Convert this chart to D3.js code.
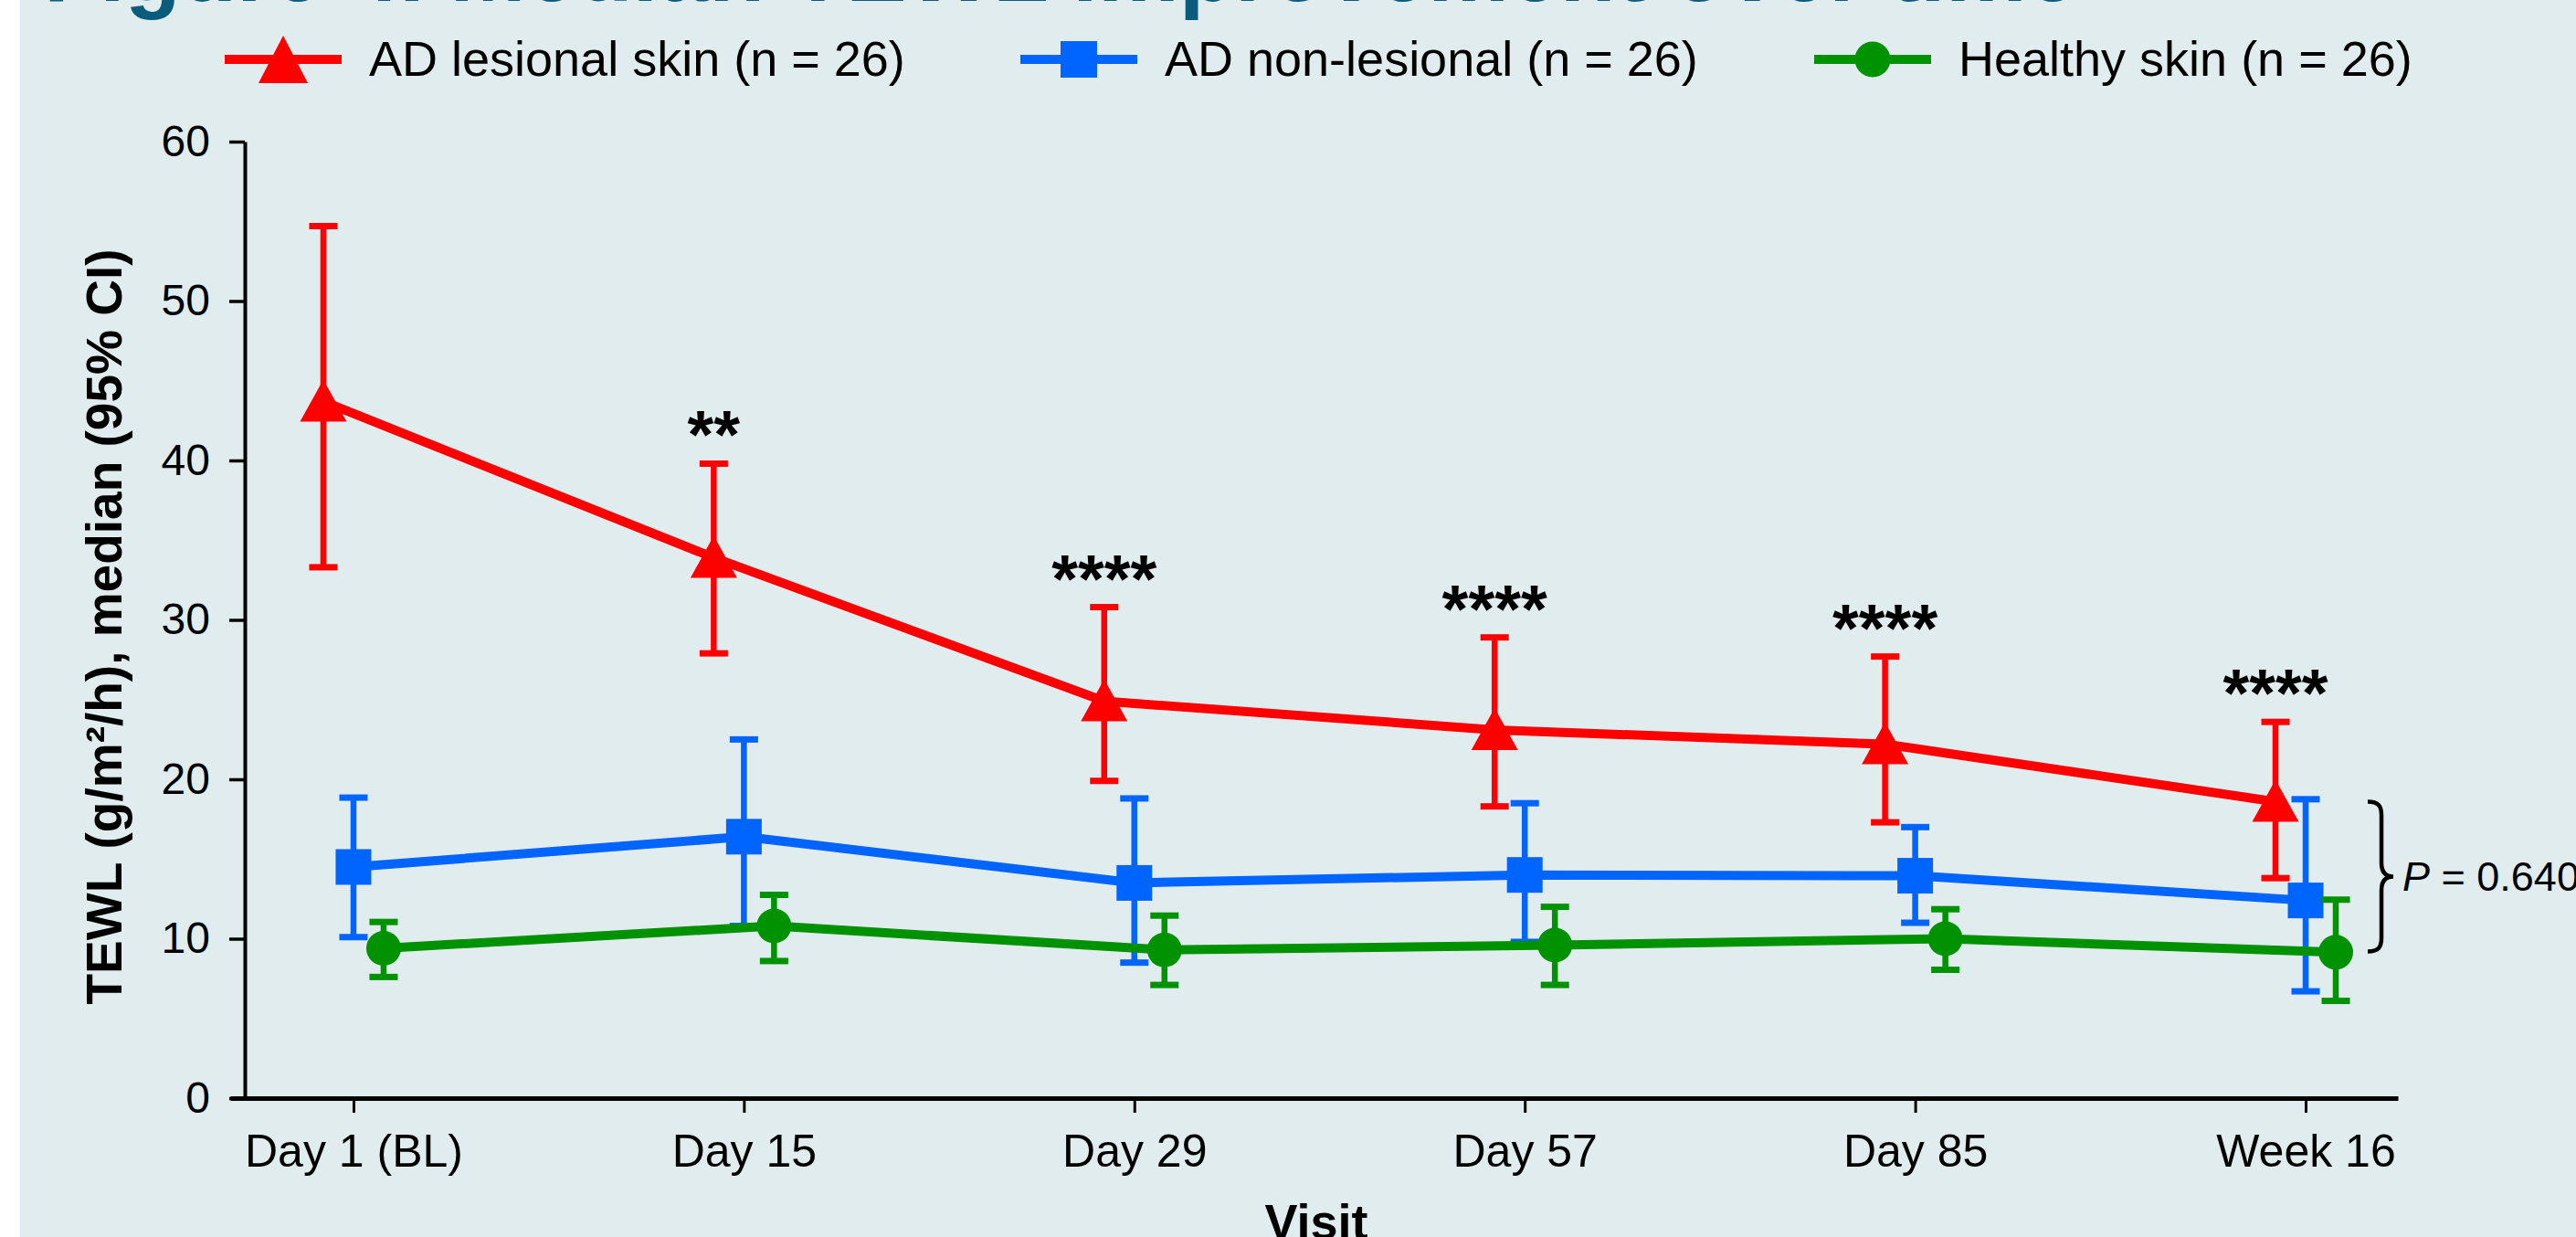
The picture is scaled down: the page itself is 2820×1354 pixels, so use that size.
<!DOCTYPE html>
<html><head><meta charset="utf-8">
<script src="https://cdn.jsdelivr.net/npm/d3@7/dist/d3.min.js"></script>
<style>html,body{margin:0;padding:0;background:#fff}svg{display:block}</style>
</head><body>
<script>
// ---- data ----
const visits = ["Day 1 (BL)", "Day 15", "Day 29", "Day 57", "Day 85", "Week 16"];
const yTicks = [0, 10, 20, 30, 40, 50, 60];
const seriesNames = ["AD lesional skin (n = 26)", "AD non-lesional (n = 26)", "Healthy skin (n = 26)"];
const lesionalMedian = [43.7, 33.9, 24.9, 23.1, 22.2, 18.6];
const lesionalLower  = [33.3, 27.9, 19.9, 18.3, 17.3, 13.8];
const lesionalUpper  = [54.7, 39.8, 30.8, 28.9, 27.7, 23.6];
const nonLesionalMedian = [14.5, 16.4, 13.5, 14.0, 13.95, 12.4];
const nonLesionalLower  = [10.1, 10.8, 8.5, 9.8, 11.0, 6.7];
const nonLesionalUpper  = [18.85, 22.5, 18.8, 18.5, 17.0, 18.75];
const healthyMedian = [9.4, 10.8, 9.3, 9.6, 10.0, 9.15];
const healthyLower  = [7.6, 8.6, 7.1, 7.1, 8.05, 6.1];
const healthyUpper  = [11.05, 12.75, 11.45, 12.0, 11.85, 12.45];
const significance = ["", "**", "****", "****", "****", "****"];
const braceRange = [18.6, 9.2];
const pLabel = "0.640";
const titleText = "Figure 4. Median TEWL improvement over time";
const yTitle = "TEWL (g/m²/h), median (95% CI)";
const xTitle = "Visit";

// ---- drawing ----
const W = 2820, H = 1354;
const font = "'Liberation Sans', Arial, Helvetica, sans-serif";
const colors = ["#ff0000", "#0064ff", "#009200"];
const svg = d3.select("body").append("svg").attr("width", W).attr("height", H)
  .attr("font-family", font);

svg.append("rect").attr("x", 22).attr("y", 0).attr("width", W - 22).attr("height", H).attr("fill", "#e1ecee");

svg.append("text").attr("x", 48).attr("y", 1).attr("font-weight", "bold").attr("font-size", 100)
  .attr("fill", "#0a5c7d").text(titleText);

const x = d3.scalePoint().domain(visits).range([252, 2625]).padding(0.276).align(0.572);
const y = d3.scaleLinear().domain([0, 60]).range([1202, 155]);

// axes
const gy = svg.append("g").attr("transform", "translate(268,0)")
  .call(d3.axisLeft(y).tickValues(yTicks).tickSize(17).tickSizeOuter(0).tickPadding(21));
gy.select(".domain").attr("stroke", "#000").attr("stroke-width", 4);
gy.selectAll(".tick line").attr("stroke", "#000").attr("stroke-width", 3.5);
gy.selectAll(".tick text").attr("font-size", 48).attr("fill", "#000").attr("font-family", font);

const gx = svg.append("g").attr("transform", "translate(0,1202)")
  .call(d3.axisBottom(x).tickSize(16).tickSizeOuter(0));
gx.select(".domain").attr("stroke", "#000").attr("stroke-width", 5);
gx.selectAll(".tick line").attr("stroke", "#000").attr("stroke-width", 3);
gx.selectAll(".tick text").attr("font-size", 50).attr("fill", "#000").attr("font-family", font)
  .attr("y", 75).attr("dy", 0);

// axis titles
svg.append("text").attr("transform", "translate(133,686) rotate(-90)").attr("text-anchor", "middle")
  .attr("font-weight", "bold").attr("font-size", 55).attr("fill", "#000").text(yTitle);
svg.append("text").attr("x", 1441).attr("y", 1356).attr("text-anchor", "middle")
  .attr("font-weight", "bold").attr("font-size", 54).attr("fill", "#000").text(xTitle);

// series
const series = [
  { med: lesionalMedian, lo: lesionalLower, hi: lesionalUpper, off: -33, sym: "tri" },
  { med: nonLesionalMedian, lo: nonLesionalLower, hi: nonLesionalUpper, off: 0, sym: "sq" },
  { med: healthyMedian, lo: healthyLower, hi: healthyUpper, off: 33, sym: "circ" }
];

function triPath(w, hUp, hDown) {
  return `M0,${-hUp}L${w / 2},${hDown}L${-w / 2},${hDown}Z`;
}
function drawMarker(g, type, cx, cy, color, legend) {
  if (type === "tri") {
    g.append("path").attr("d", legend ? triPath(54, 26, 26) : triPath(51, 24, 22))
      .attr("transform", `translate(${cx},${cy})`).attr("fill", color);
  } else if (type === "sq") {
    const s = legend ? 40 : 39;
    g.append("rect").attr("x", cx - s / 2).attr("y", cy - s / 2).attr("width", s).attr("height", s).attr("fill", color);
  } else {
    g.append("circle").attr("cx", cx).attr("cy", cy).attr("r", legend ? 19.5 : 19).attr("fill", color);
  }
}

series.forEach((s, k) => {
  const g = svg.append("g");
  const color = colors[k];
  const px = i => x(visits[i]) + s.off;
  g.append("path").datum(s.med)
    .attr("d", d3.line().x((d, i) => px(i)).y(d => y(d)))
    .attr("fill", "none").attr("stroke", color).attr("stroke-width", 10);
  s.med.forEach((m, i) => {
    const cx = px(i);
    g.append("line").attr("x1", cx).attr("x2", cx).attr("y1", y(s.lo[i])).attr("y2", y(s.hi[i]))
      .attr("stroke", color).attr("stroke-width", 6.5);
    [s.lo[i], s.hi[i]].forEach(v => {
      g.append("line").attr("x1", cx - 15.5).attr("x2", cx + 15.5).attr("y1", y(v)).attr("y2", y(v))
        .attr("stroke", color).attr("stroke-width", 7);
    });
  });
  s.med.forEach((m, i) => drawMarker(g, s.sym, px(i), y(m), color, false));
});

// significance stars
significance.forEach((t, i) => {
  if (!t) return;
  svg.append("text").attr("x", x(visits[i]) + series[0].off).attr("y", y(lesionalUpper[i]) - 6)
    .attr("text-anchor", "middle").attr("font-weight", "bold").attr("font-size", 74)
    .attr("fill", "#000").text(t);
});

// brace and P value
const bx = x(visits[5]) + 68;
const bTop = y(braceRange[0]), bBot = y(braceRange[1]), bMid = (bTop + bBot) / 2;
const bPath = `M${bx},${bTop} C${bx + 12},${bTop} ${bx + 15},${bTop + 5} ${bx + 15},${bTop + 15}
  L${bx + 15},${bMid - 15} C${bx + 15},${bMid - 5} ${bx + 19},${bMid} ${bx + 28},${bMid}
  C${bx + 19},${bMid} ${bx + 15},${bMid + 5} ${bx + 15},${bMid + 15}
  L${bx + 15},${bBot - 15} C${bx + 15},${bBot - 5} ${bx + 12},${bBot} ${bx},${bBot}`;
svg.append("path").attr("d", bPath).attr("fill", "none").attr("stroke", "#000").attr("stroke-width", 4.5);
const pt = svg.append("text").attr("x", bx + 38).attr("y", bMid + 16).attr("font-size", 45).attr("fill", "#000");
pt.append("tspan").attr("font-style", "italic").text("P");
pt.append("tspan").text(" = " + pLabel);

// legend
const legendX = [246, 1117, 1986];
const syms = ["tri", "sq", "circ"];
seriesNames.forEach((name, k) => {
  const g = svg.append("g");
  const lx = legendX[k];
  g.append("line").attr("x1", lx).attr("x2", lx + 128).attr("y1", 65).attr("y2", 65)
    .attr("stroke", colors[k]).attr("stroke-width", 10);
  drawMarker(g, syms[k], lx + 64, 65, colors[k], true);
  g.append("text").attr("x", lx + 158).attr("y", 83).attr("font-size", 54).attr("fill", "#000").text(name);
});
</script>
</body></html>
